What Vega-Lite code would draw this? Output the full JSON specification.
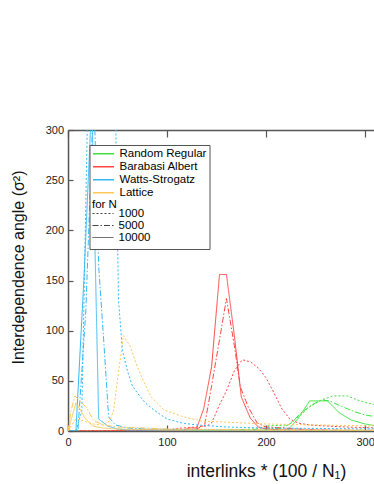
{
 "$schema": "https://vega.github.io/schema/vega-lite/v6.json",
 "autosize": {"type": "none"},
 "padding": {"left": 68, "top": 130, "right": 0, "bottom": 53},
 "width": 306,
 "height": 301,
 "background": "white",
 "config": {"font": "Liberation Sans", "view": {"stroke": null}},
 "data": {"values": [
  {"type":"Random Regular","N":"1000","x":0,"y":0},{"type":"Random Regular","N":"1000","x":100,"y":0.5},{"type":"Random Regular","N":"1000","x":160,"y":1},{"type":"Random Regular","N":"1000","x":190,"y":2},{"type":"Random Regular","N":"1000","x":200,"y":5},{"type":"Random Regular","N":"1000","x":222,"y":6},{"type":"Random Regular","N":"1000","x":234,"y":15},{"type":"Random Regular","N":"1000","x":244,"y":24},{"type":"Random Regular","N":"1000","x":256,"y":31},{"type":"Random Regular","N":"1000","x":268,"y":35},{"type":"Random Regular","N":"1000","x":282,"y":35},{"type":"Random Regular","N":"1000","x":292,"y":31},{"type":"Random Regular","N":"1000","x":302,"y":28},{"type":"Random Regular","N":"1000","x":312,"y":26},
  {"type":"Random Regular","N":"5000","x":0,"y":0},{"type":"Random Regular","N":"5000","x":150,"y":0.5},{"type":"Random Regular","N":"5000","x":200,"y":2},{"type":"Random Regular","N":"5000","x":216,"y":3},{"type":"Random Regular","N":"5000","x":226,"y":8},{"type":"Random Regular","N":"5000","x":234,"y":17},{"type":"Random Regular","N":"5000","x":246,"y":26},{"type":"Random Regular","N":"5000","x":256,"y":31},{"type":"Random Regular","N":"5000","x":264,"y":30},{"type":"Random Regular","N":"5000","x":275,"y":25},{"type":"Random Regular","N":"5000","x":290,"y":19},{"type":"Random Regular","N":"5000","x":300,"y":16},{"type":"Random Regular","N":"5000","x":312,"y":14},
  {"type":"Random Regular","N":"10000","x":0,"y":0},{"type":"Random Regular","N":"10000","x":216,"y":0},{"type":"Random Regular","N":"10000","x":222,"y":1},{"type":"Random Regular","N":"10000","x":232,"y":12},{"type":"Random Regular","N":"10000","x":244,"y":30},{"type":"Random Regular","N":"10000","x":262,"y":30},{"type":"Random Regular","N":"10000","x":274,"y":18},{"type":"Random Regular","N":"10000","x":286,"y":11},{"type":"Random Regular","N":"10000","x":300,"y":7},{"type":"Random Regular","N":"10000","x":312,"y":5},
  {"type":"Barabasi Albert","N":"1000","x":0,"y":0},{"type":"Barabasi Albert","N":"1000","x":100,"y":1},{"type":"Barabasi Albert","N":"1000","x":115,"y":3},{"type":"Barabasi Albert","N":"1000","x":130,"y":4},{"type":"Barabasi Albert","N":"1000","x":140,"y":5},{"type":"Barabasi Albert","N":"1000","x":145,"y":8},{"type":"Barabasi Albert","N":"1000","x":153,"y":26},{"type":"Barabasi Albert","N":"1000","x":160,"y":40},{"type":"Barabasi Albert","N":"1000","x":168,"y":60},{"type":"Barabasi Albert","N":"1000","x":176,"y":71},{"type":"Barabasi Albert","N":"1000","x":184,"y":69},{"type":"Barabasi Albert","N":"1000","x":192,"y":63},{"type":"Barabasi Albert","N":"1000","x":200,"y":53},{"type":"Barabasi Albert","N":"1000","x":208,"y":38},{"type":"Barabasi Albert","N":"1000","x":216,"y":22},{"type":"Barabasi Albert","N":"1000","x":224,"y":12},{"type":"Barabasi Albert","N":"1000","x":232,"y":8},{"type":"Barabasi Albert","N":"1000","x":244,"y":6},{"type":"Barabasi Albert","N":"1000","x":260,"y":5},{"type":"Barabasi Albert","N":"1000","x":280,"y":4},{"type":"Barabasi Albert","N":"1000","x":312,"y":3},
  {"type":"Barabasi Albert","N":"5000","x":0,"y":0},{"type":"Barabasi Albert","N":"5000","x":110,"y":0},{"type":"Barabasi Albert","N":"5000","x":123,"y":1},{"type":"Barabasi Albert","N":"5000","x":130,"y":2},{"type":"Barabasi Albert","N":"5000","x":138,"y":6},{"type":"Barabasi Albert","N":"5000","x":145,"y":45},{"type":"Barabasi Albert","N":"5000","x":153,"y":91},{"type":"Barabasi Albert","N":"5000","x":160,"y":132},{"type":"Barabasi Albert","N":"5000","x":168,"y":85},{"type":"Barabasi Albert","N":"5000","x":174,"y":44},{"type":"Barabasi Albert","N":"5000","x":182,"y":24},{"type":"Barabasi Albert","N":"5000","x":191,"y":8},{"type":"Barabasi Albert","N":"5000","x":200,"y":4},{"type":"Barabasi Albert","N":"5000","x":250,"y":1},{"type":"Barabasi Albert","N":"5000","x":312,"y":0.5},
  {"type":"Barabasi Albert","N":"10000","x":0,"y":0},{"type":"Barabasi Albert","N":"10000","x":100,"y":0},{"type":"Barabasi Albert","N":"10000","x":116,"y":1},{"type":"Barabasi Albert","N":"10000","x":123,"y":3},{"type":"Barabasi Albert","N":"10000","x":130,"y":3},{"type":"Barabasi Albert","N":"10000","x":137,"y":22},{"type":"Barabasi Albert","N":"10000","x":145,"y":64},{"type":"Barabasi Albert","N":"10000","x":153,"y":156},{"type":"Barabasi Albert","N":"10000","x":160,"y":156},{"type":"Barabasi Albert","N":"10000","x":168,"y":95},{"type":"Barabasi Albert","N":"10000","x":175,"y":34},{"type":"Barabasi Albert","N":"10000","x":184,"y":13},{"type":"Barabasi Albert","N":"10000","x":192,"y":4},{"type":"Barabasi Albert","N":"10000","x":200,"y":2},{"type":"Barabasi Albert","N":"10000","x":220,"y":1},{"type":"Barabasi Albert","N":"10000","x":312,"y":0},
  {"type":"Watts-Strogatz","N":"1000","x":0,"y":0},{"type":"Watts-Strogatz","N":"1000","x":8,"y":0},{"type":"Watts-Strogatz","N":"1000","x":14,"y":20},{"type":"Watts-Strogatz","N":"1000","x":20,"y":330},{"type":"Watts-Strogatz","N":"1000","x":34,"y":600},{"type":"Watts-Strogatz","N":"1000","x":48,"y":320},{"type":"Watts-Strogatz","N":"1000","x":51,"y":130},{"type":"Watts-Strogatz","N":"1000","x":55,"y":80},{"type":"Watts-Strogatz","N":"1000","x":60,"y":60},{"type":"Watts-Strogatz","N":"1000","x":65,"y":45},{"type":"Watts-Strogatz","N":"1000","x":70,"y":38},{"type":"Watts-Strogatz","N":"1000","x":78,"y":28},{"type":"Watts-Strogatz","N":"1000","x":88,"y":20},{"type":"Watts-Strogatz","N":"1000","x":100,"y":12},{"type":"Watts-Strogatz","N":"1000","x":115,"y":8},{"type":"Watts-Strogatz","N":"1000","x":130,"y":6},{"type":"Watts-Strogatz","N":"1000","x":160,"y":4},{"type":"Watts-Strogatz","N":"1000","x":200,"y":3},{"type":"Watts-Strogatz","N":"1000","x":312,"y":2},
  {"type":"Watts-Strogatz","N":"5000","x":0,"y":0},{"type":"Watts-Strogatz","N":"5000","x":10,"y":0},{"type":"Watts-Strogatz","N":"5000","x":18,"y":120},{"type":"Watts-Strogatz","N":"5000","x":26,"y":340},{"type":"Watts-Strogatz","N":"5000","x":31,"y":164},{"type":"Watts-Strogatz","N":"5000","x":36,"y":91},{"type":"Watts-Strogatz","N":"5000","x":41,"y":14},{"type":"Watts-Strogatz","N":"5000","x":48,"y":6},{"type":"Watts-Strogatz","N":"5000","x":60,"y":3},{"type":"Watts-Strogatz","N":"5000","x":80,"y":2},{"type":"Watts-Strogatz","N":"5000","x":150,"y":1},{"type":"Watts-Strogatz","N":"5000","x":312,"y":0.5},
  {"type":"Watts-Strogatz","N":"10000","x":0,"y":0},{"type":"Watts-Strogatz","N":"10000","x":8,"y":0},{"type":"Watts-Strogatz","N":"10000","x":16,"y":150},{"type":"Watts-Strogatz","N":"10000","x":24,"y":330},{"type":"Watts-Strogatz","N":"10000","x":31,"y":12},{"type":"Watts-Strogatz","N":"10000","x":40,"y":5},{"type":"Watts-Strogatz","N":"10000","x":50,"y":2},{"type":"Watts-Strogatz","N":"10000","x":60,"y":1},{"type":"Watts-Strogatz","N":"10000","x":150,"y":0.5},{"type":"Watts-Strogatz","N":"10000","x":312,"y":0},
  {"type":"Lattice","N":"1000","x":0,"y":0},{"type":"Lattice","N":"1000","x":8,"y":12},{"type":"Lattice","N":"1000","x":16,"y":10},{"type":"Lattice","N":"1000","x":25,"y":7},{"type":"Lattice","N":"1000","x":35,"y":6},{"type":"Lattice","N":"1000","x":42,"y":10},{"type":"Lattice","N":"1000","x":46,"y":20},{"type":"Lattice","N":"1000","x":50,"y":51},{"type":"Lattice","N":"1000","x":56,"y":95},{"type":"Lattice","N":"1000","x":63,"y":84},{"type":"Lattice","N":"1000","x":70,"y":64},{"type":"Lattice","N":"1000","x":77,"y":48},{"type":"Lattice","N":"1000","x":84,"y":34},{"type":"Lattice","N":"1000","x":97,"y":21},{"type":"Lattice","N":"1000","x":117,"y":14},{"type":"Lattice","N":"1000","x":135,"y":10},{"type":"Lattice","N":"1000","x":155,"y":9},{"type":"Lattice","N":"1000","x":200,"y":7},{"type":"Lattice","N":"1000","x":250,"y":6},{"type":"Lattice","N":"1000","x":312,"y":5},
  {"type":"Lattice","N":"5000","x":0,"y":0},{"type":"Lattice","N":"5000","x":3,"y":20},{"type":"Lattice","N":"5000","x":7,"y":35},{"type":"Lattice","N":"5000","x":12,"y":30},{"type":"Lattice","N":"5000","x":19,"y":23},{"type":"Lattice","N":"5000","x":26,"y":10},{"type":"Lattice","N":"5000","x":36,"y":6},{"type":"Lattice","N":"5000","x":50,"y":4},{"type":"Lattice","N":"5000","x":100,"y":2},{"type":"Lattice","N":"5000","x":200,"y":1},{"type":"Lattice","N":"5000","x":312,"y":1},
  {"type":"Lattice","N":"10000","x":0,"y":0},{"type":"Lattice","N":"10000","x":4,"y":14},{"type":"Lattice","N":"10000","x":8,"y":28},{"type":"Lattice","N":"10000","x":12,"y":22},{"type":"Lattice","N":"10000","x":17,"y":13},{"type":"Lattice","N":"10000","x":25,"y":5},{"type":"Lattice","N":"10000","x":35,"y":3},{"type":"Lattice","N":"10000","x":50,"y":2},{"type":"Lattice","N":"10000","x":100,"y":1},{"type":"Lattice","N":"10000","x":312,"y":0.5}
 ]},
 "layer": [
  {
   "mark": {"type": "line", "clip": true, "strokeWidth": 1},
   "encoding": {
    "x": {"field": "x", "type": "quantitative",
      "scale": {"domain": [0, 309], "nice": false, "zero": false},
      "axis": {"orient": "bottom", "values": [0, 100, 200, 300], "grid": false, "tickSize": -6, "tickColor": "#555", "tickWidth": 1.2, "domainColor": "#555", "domainWidth": 1.5, "labelPadding": 11, "labelFlush": false, "labelFontSize": 11, "labelColor": "#222",
        "title": "interlinks * (100 / N₁)", "titleFontSize": 17.5, "titleFontWeight": "normal", "titleColor": "#111", "titleX": 198, "titleY": 45, "titleAlign": "center", "titleBaseline": "alphabetic"}},
    "y": {"field": "y", "type": "quantitative",
      "scale": {"domain": [0, 300], "nice": false},
      "axis": {"values": [0, 50, 100, 150, 200, 250, 300], "grid": false, "tickSize": -5, "tickColor": "#555", "tickWidth": 1.2, "domainColor": "#555", "domainWidth": 1.5, "labelPadding": 9.5, "labelFlush": false, "labelFontSize": 11, "labelColor": "#222",
        "title": "Interdependence angle (σ²)", "titleFontSize": 16, "titleFontWeight": "normal", "titleColor": "#111", "titleX": -45, "titleY": 137, "titleAlign": "center", "titleBaseline": "alphabetic"}},
    "color": {"field": "type", "type": "nominal",
      "scale": {"domain": ["Random Regular", "Barabasi Albert", "Watts-Strogatz", "Lattice"], "range": ["#3fe23f", "#ff4545", "#35b8f7", "#ffc658"]},
      "legend": {"orient": "none", "legendX": 21.5, "legendY": 15, "title": ["for N", "", "", ""], "titleOrient": "bottom", "titleAnchor": "start", "titleFontSize": 11.5, "titleFontWeight": "normal", "titleLineHeight": 12, "titlePadding": 0, "titleColor": "#000", "padding": 2.5, "strokeColor": "#555", "fillColor": "white", "symbolType": "stroke", "symbolSize": 441, "symbolStrokeWidth": 1.5, "clipHeight": 12.3, "labelFontSize": 11.5, "labelOffset": 4.5, "labelColor": "#000", "rowPadding": 0, "zindex": 1}},
    "strokeDash": {"field": "N", "type": "nominal",
      "scale": {"domain": ["1000", "5000", "10000"], "range": [[2, 2], [6, 2, 1.5, 2], [1, 0]]},
      "legend": {"orient": "none", "legendX": 21.5, "legendY": 75, "title": null, "padding": 2.5, "symbolType": "stroke", "symbolSize": 441, "symbolStrokeWidth": 1, "symbolStrokeColor": "#444", "clipHeight": 12, "labelFontSize": 11.5, "labelOffset": 4.5, "labelColor": "#000", "rowPadding": 0, "zindex": 2}}
   }
  },
  {
   "mark": {"type": "point", "opacity": 0},
   "encoding": {
    "x": {"field": "x", "type": "quantitative",
      "axis": {"orient": "top", "values": [0, 100, 200, 300], "grid": false, "labels": false, "title": null, "tickSize": -7, "tickColor": "#555", "tickWidth": 1.2, "domainColor": "#555", "domainWidth": 1.5}}
   }
  }
 ],
 "resolve": {"axis": {"x": "independent"}}
}
